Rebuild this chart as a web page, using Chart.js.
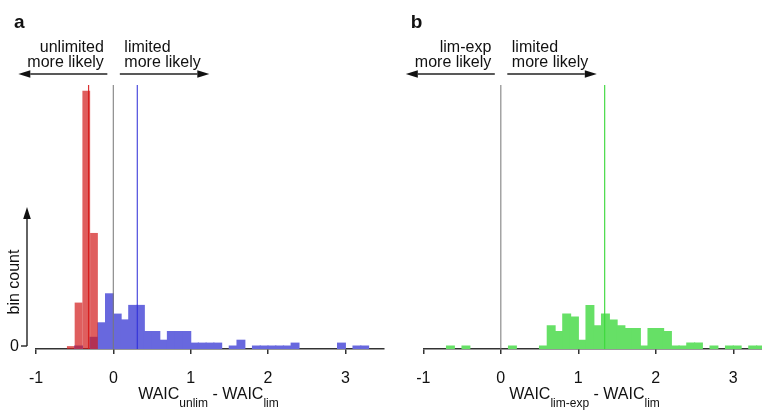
<!DOCTYPE html>
<html>
<head>
<meta charset="utf-8">
<script src="https://cdn.jsdelivr.net/npm/chart.js@4/dist/chart.umd.min.js"></script>
<style>
  body { margin: 0; background: #fff; }
  .panel { position: absolute; top: 0; }
</style>
</head>
<body>
<div class="panel" style="left:0"><canvas id="chartA" width="395" height="411"></canvas></div>
<div class="panel" style="left:395px"><canvas id="chartB" width="367" height="411"></canvas></div>
<script>
// histogram bins (left edges, width 0.1)
const binWidth = 0.1;
const edgesA = [-0.6, -0.5, -0.4, -0.3, -0.2, -0.1, 0, 0.1, 0.2, 0.3, 0.4, 0.5, 0.6, 0.7, 0.8, 0.9,
    1.0, 1.1, 1.2, 1.3, 1.4, 1.5, 1.6, 1.7, 1.8, 1.9, 2.0, 2.1, 2.2, 2.3, 2.4, 2.5, 2.6, 2.7, 2.8, 2.9,
    3.0, 3.1, 3.2];
const blueCounts = [0, 1, 0, 4, 9, 19, 12, 10, 15, 15, 6, 6, 3, 6, 6, 6,
    2, 2, 2, 2, 0, 1, 3, 0, 1, 1, 1, 1, 1, 2, 0, 0, 0, 0, 0, 2,
    0, 1, 1];
const redEdges = [-0.6, -0.5, -0.4, -0.3];
const redCounts = [1, 16, 89, 40];

const edgesB = [-0.7, -0.6, -0.5, -0.4, -0.3, -0.2, -0.1, 0, 0.1, 0.2, 0.3, 0.4, 0.5, 0.6, 0.7, 0.8,
    0.9, 1.0, 1.1, 1.2, 1.3, 1.4, 1.5, 1.6, 1.7, 1.8, 1.9, 2.0, 2.1, 2.2, 2.3, 2.4, 2.5, 2.6, 2.7, 2.8,
    2.9, 3.0, 3.1, 3.2, 3.3];
const greenCounts = [1, 0, 1, 0, 0, 0, 0, 0, 1, 0, 0, 0, 1, 8, 6, 12,
    11, 3, 15, 8, 12, 10, 8, 7, 7, 1, 7, 7, 6, 1, 1, 2, 2, 0, 1, 0,
    1, 1, 0, 1, 1];

// reference / median lines
const zeroLine = 0;
const medianRed = -0.32;
const medianBlue = 0.31;
const medianGreen = 1.34;
const lineTop = 91;

const xTicks = [-1, 0, 1, 2, 3];
const yMax = 91;

const FONT = '"Liberation Sans", Arial, Helvetica, sans-serif';

function bars(edges, counts) {
    return edges.map((e, i) => ({ x: e + binWidth / 2, y: counts[i] }));
}
function fill(color) {
    // empty bins stay invisible so they don't tint the axis line
    return c => (c.raw && c.raw.y > 0 ? color : 'rgba(0,0,0,0)');
}
function vline(v, color) {
    return {
        type: 'line', order: 0,
        data: [{ x: v, y: 0 }, { x: v, y: lineTop }],
        borderColor: color, borderWidth: 1.2, pointRadius: 0
    };
}

function arrow(ctx, x1, y1, x2, y2) {
    const ang = Math.atan2(y2 - y1, x2 - x1);
    const hl = 12, hw = 3.8;
    const bx = x2 - Math.cos(ang) * hl, by = y2 - Math.sin(ang) * hl;
    ctx.beginPath();
    ctx.moveTo(x1, y1);
    ctx.lineTo(bx, by);
    ctx.stroke();
    ctx.beginPath();
    ctx.moveTo(x2, y2);
    ctx.lineTo(bx - Math.sin(ang) * hw, by + Math.cos(ang) * hw);
    ctx.lineTo(bx + Math.sin(ang) * hw, by - Math.cos(ang) * hw);
    ctx.closePath();
    ctx.fill();
}

const deco = {
    id: 'deco',
    afterDraw(chart, args, o) {
        const ctx = chart.ctx;
        const sx = chart.scales.x;
        const area = chart.chartArea;
        const x0 = sx.getPixelForValue(0);
        ctx.save();
        ctx.fillStyle = '#111';
        ctx.strokeStyle = '#222';
        ctx.lineWidth = 1.4;

        ctx.font = 'bold 19px ' + FONT;
        ctx.textAlign = 'left';
        ctx.textBaseline = 'alphabetic';
        ctx.fillText(o.letter, o.letterX, 28);

        ctx.font = '16px ' + FONT;
        ctx.textAlign = 'right';
        ctx.fillText(o.leftText[0], x0 - 9.5, 52);
        ctx.fillText(o.leftText[1], x0 - 9.5, 66.5);
        ctx.textAlign = 'left';
        ctx.fillText(o.rightText[0], x0 + 11, 52);
        ctx.fillText(o.rightText[1], x0 + 11, 66.5);

        arrow(ctx, x0 - 6, 74, x0 - 95, 74);
        arrow(ctx, x0 + 6.5, 74, x0 + 96, 74);

        // axis title with subscripts
        const parts = o.title;
        let total = 0;
        parts.forEach(p => {
            ctx.font = (p[1] ? '12px ' : '16px ') + FONT;
            total += ctx.measureText(p[0]).width;
        });
        let tx = sx.getPixelForValue(o.titleAt) - total / 2;
        ctx.textAlign = 'left';
        parts.forEach(p => {
            ctx.font = (p[1] ? '12px ' : '16px ') + FONT;
            ctx.fillText(p[0], tx, p[1] ? 407 : 399);
            tx += ctx.measureText(p[0]).width;
        });

        if (o.yAxis) {
            const ax = 27;
            arrow(ctx, ax, area.bottom - 3, ax, 207);
            ctx.beginPath();
            ctx.moveTo(21, area.bottom - 3);
            ctx.lineTo(ax, area.bottom - 3);
            ctx.stroke();
            ctx.font = '16px ' + FONT;
            ctx.textAlign = 'right';
            ctx.textBaseline = 'middle';
            ctx.fillText('0', 19, area.bottom - 2);
            ctx.save();
            ctx.translate(15, 282);
            ctx.rotate(-Math.PI / 2);
            ctx.textAlign = 'center';
            ctx.fillText('bin count', 0, 0);
            ctx.restore();
        }
        ctx.restore();
    }
};

function makeOptions(xMax, padding, decoOpts) {
    return {
        responsive: false,
        animation: false,
        devicePixelRatio: 1,
        layout: { padding: padding },
        scales: {
            x: {
                type: 'linear',
                offset: false,
                min: -1,
                max: xMax,
                afterBuildTicks: s => { s.ticks = xTicks.map(v => ({ value: v })); },
                afterFit: s => { s.height = 62; },
                border: { display: true, color: '#333', width: 1.5 },
                grid: { display: true, offset: false, drawOnChartArea: false, drawTicks: true, tickLength: 5, color: '#333', lineWidth: 1.5 },
                ticks: { padding: 15, color: '#111', font: { family: FONT, size: 16 } }
            },
            y: { display: false, min: 0, max: yMax }
        },
        plugins: {
            legend: { display: false },
            tooltip: { enabled: false },
            deco: decoOpts
        }
    };
}

const chartA = new Chart(document.getElementById('chartA'), {
    type: 'bar',
    data: {
        datasets: [
            vline(zeroLine, 'rgba(120,120,120,0.85)'),
            vline(medianRed, 'rgba(215,25,25,0.9)'),
            vline(medianBlue, 'rgba(45,45,215,0.85)'),
            {
                order: 1, grouped: false,
                data: bars(redEdges, redCounts),
                backgroundColor: fill('rgba(210,25,25,0.7)'),
                borderWidth: 0, inflateAmount: 0,
                barPercentage: 1, categoryPercentage: 1
            },
            {
                order: 2, grouped: false,
                data: bars(edgesA, blueCounts),
                backgroundColor: fill('rgb(104,104,222)'),
                borderWidth: 0, inflateAmount: 0.6,
                barPercentage: 1, categoryPercentage: 1
            }
        ]
    },
    options: makeOptions(3.5, { left: 36, right: 11, top: 85, bottom: 0 }, {
        letter: 'a', letterX: 14,
        leftText: ['unlimited', 'more likely'],
        rightText: ['limited', 'more likely'],
        title: [['WAIC', false], ['unlim', true], [' - WAIC', false], ['lim', true]],
        titleAt: 1.23,
        yAxis: true
    }),
    plugins: [deco]
});

const chartB = new Chart(document.getElementById('chartB'), {
    type: 'bar',
    data: {
        datasets: [
            vline(zeroLine, 'rgba(120,120,120,0.85)'),
            vline(medianGreen, 'rgba(60,215,60,0.95)'),
            {
                order: 1, grouped: false,
                data: bars(edgesB, greenCounts),
                backgroundColor: fill('rgb(102,224,102)'),
                borderWidth: 0, inflateAmount: 0.6,
                barPercentage: 1, categoryPercentage: 1
            }
        ]
    },
    options: makeOptions(3.37, { left: 28.3, right: 0, top: 85, bottom: 0 }, {
        letter: 'b', letterX: 15.7,
        leftText: ['lim-exp', 'more likely'],
        rightText: ['limited', 'more likely'],
        title: [['WAIC', false], ['lim-exp', true], [' - WAIC', false], ['lim', true]],
        titleAt: 1.08,
        yAxis: false
    }),
    plugins: [deco]
});
</script>
</body>
</html>
